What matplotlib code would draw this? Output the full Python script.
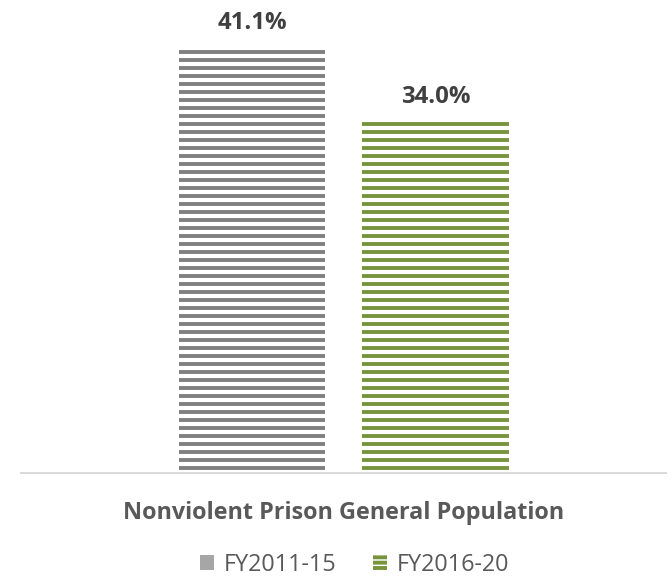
import matplotlib
matplotlib.use("Agg")
import matplotlib.pyplot as plt
from matplotlib.patches import Patch

plt.rcParams["font.family"] = ["Open Sans", "DejaVu Sans"]
plt.rcParams["hatch.linewidth"] = 2.9

category = "Nonviolent Prison General Population"
series_labels = ["FY2011-15", "FY2016-20"]
values = [41.1, 34.0]
value_labels = ["41.1%", "34.0%"]
colors = ["#7f7f7f", "#77933c"]

DPI = 96
fig = plt.figure(figsize=(672 / DPI, 579 / DPI), dpi=DPI)
ax = fig.add_axes([21 / 672, 106 / 579, 645 / 672, 466.4 / 579])

positions = [0, 1]
width = 0.796
for x, v, c in zip(positions, values, colors):
    ax.bar(x, v, width=width, facecolor="white", edgecolor=c,
           linewidth=0, hatch="--")

for x, v, lab in zip(positions, values, value_labels):
    ax.annotate(lab, (x, v), xytext=(0, 18), textcoords="offset pixels",
                ha="center", va="baseline", fontsize=18, fontweight="bold",
                color="#404040")

ax.set_xlim(-1.259, 2.256)
ax.set_ylim(0, 45)
for side in ("left", "right", "top"):
    ax.spines[side].set_visible(False)
ax.spines["bottom"].set_color("#d9d9d9")
ax.spines["bottom"].set_linewidth(1.5)
ax.set_xticks([])
ax.set_yticks([])

fig.text(343.5 / 672, (579 - 519) / 579, category, ha="center",
         va="baseline", fontsize=17.5, fontweight="bold", color="#595959")

handles = [
    Patch(facecolor="#a6a6a6", edgecolor="none", linewidth=0),
    Patch(facecolor="white", edgecolor=colors[1], linewidth=0, hatch="---"),
]
leg = fig.legend(handles, series_labels, loc="lower center",
                 bbox_to_anchor=(354.5 / 672, 0.004), ncol=2, frameon=False,
                 fontsize=17.5, labelcolor="#595959", handlelength=0.6,
                 handleheight=0.6, handletextpad=0.4, columnspacing=1.6,
                 borderpad=0, borderaxespad=0)

fig.savefig("out.png", dpi=DPI)
